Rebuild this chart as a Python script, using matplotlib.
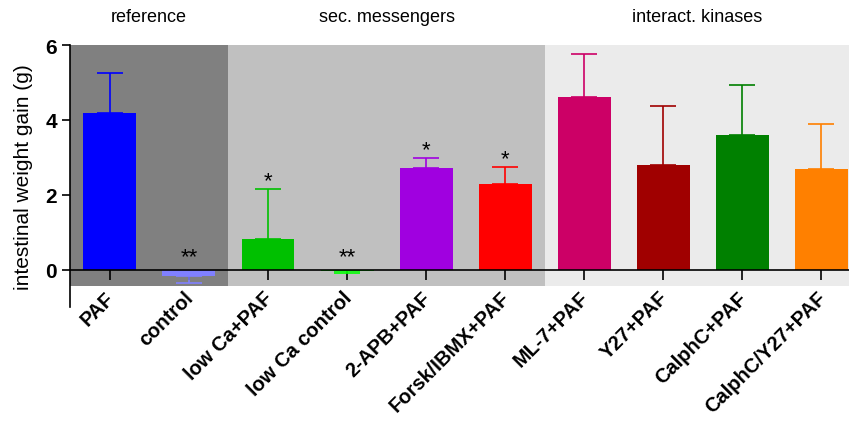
import matplotlib.pyplot as plt
import matplotlib.transforms as mtransforms
import numpy as np

plt.rcParams['font.family'] = ['Liberation Sans', 'DejaVu Sans']

# nhóm thí nghiệm và giá trị trung bình +/- SEM
groups = ["PAF", "control", "low Ca+PAF", "low Ca control", "2-APB+PAF",
          "Forsk/IBMX+PAF", "ML-7+PAF", "Y27+PAF", "CalphC+PAF", "CalphC/Y27+PAF"]
means = [4.19, -0.18, 0.82, -0.05, 2.72, 2.29, 4.62, 2.79, 3.59, 2.68]
errs = [1.07, 0.19, 1.33, 0.05, 0.27, 0.46, 1.15, 1.57, 1.35, 1.22]
colors = ["#0000ff", "#8080ff", "#00c000", "#00ff00", "#a000e0",
          "#ff0000", "#cc0066", "#a00000", "#008000", "#ff8000"]
stars = ["", "**", "*", "**", "*", "*", "", "", "", ""]

# các vùng nền: (tên, chỉ số bắt đầu, chỉ số kết thúc, màu)
sections = [("reference", 0, 1, "#808080"),
            ("sec. messengers", 2, 5, "#c0c0c0"),
            ("interact. kinases", 6, 9, "#ebebeb")]

fig = plt.figure(figsize=(8.49, 4.27), dpi=100)
ax = fig.add_axes([70/849, 1 - 308/427, 1 - 70/849, (308 - 46)/427])

x = np.arange(len(groups))
xmin, xmax = -0.505, 9.35
ax.set_xlim(xmin, xmax)
ax.set_ylim(-1, 6)

# vẽ nền từng nhóm
for name, a, b, c in sections:
    left = xmin if a == 0 else a - 0.5
    right = xmax if b == len(groups) - 1 else b + 0.5
    ax.fill_between([left, right], -0.43, 6, color=c, zorder=0, lw=0)
    fig.text(ax.transData.transform(((left + right) / 2, 0))[0] / 849, 0.958,
             name, ha="center", va="center", fontsize=13)

# cột + thanh sai số (chỉ một phía)
for i in x:
    ax.bar(i, means[i], width=0.67, color=colors[i], zorder=2)
    sign = 1 if means[i] >= 0 else -1
    ax.errorbar(i, means[i], yerr=[[errs[i]] if sign < 0 else [0], [errs[i]] if sign > 0 else [0]],
                fmt="none", ecolor=colors[i], elinewidth=1.2, capsize=9.5, capthick=1.2, zorder=3)
    if stars[i]:
        base = means[i] + errs[i] + 0.07 if sign > 0 and means[i] > 0.2 else 0.2
        ax.text(i, base, stars[i], ha="center", va="baseline", fontsize=16)

ax.spines["top"].set_visible(False)
ax.spines["right"].set_visible(False)
ax.spines["bottom"].set_position(("data", 0))
ax.spines["bottom"].set_zorder(4)
ax.spines["left"].set_linewidth(1.2)
ax.spines["bottom"].set_linewidth(1.2)

ax.set_yticks([0, 2, 4, 6])
ax.tick_params(axis="y", length=6, width=1.2, labelsize=15)
for t in ax.get_yticklabels():
    t.set_fontweight("bold")

ax.set_xticks(x)
ax.set_xticklabels(groups, rotation=45, ha="right", rotation_mode="anchor",
                   fontsize=14.5, fontweight="bold")
ax.tick_params(axis="x", direction="out", length=7, width=1.2, pad=6)
# dịch nhãn trục x sang trái một chút
shift = mtransforms.ScaledTranslation(-3.6/72, 0, fig.dpi_scale_trans)
for t in ax.get_xticklabels():
    t.set_transform(t.get_transform() + shift)

ax.set_ylabel("intestinal weight gain (g)", fontsize=15)
ax.yaxis.set_label_coords(-0.048, 0.5)

fig.savefig("out.png", dpi=100)
